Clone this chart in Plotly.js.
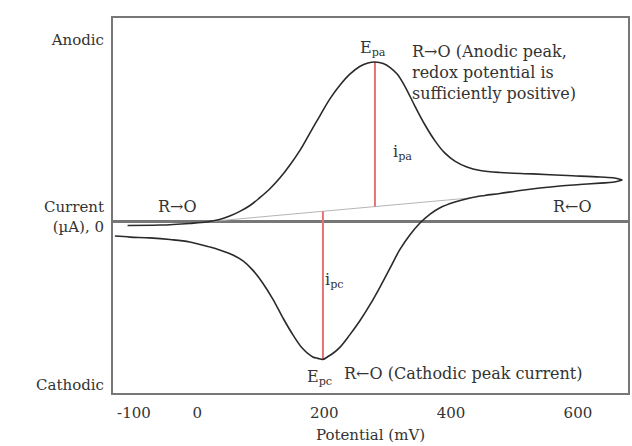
<!DOCTYPE html>
<html>
<head>
<meta charset="utf-8">
<script src="https://cdn.plot.ly/plotly-3.0.1.min.js"></script>
<style>html,body{margin:0;padding:0;background:#fff;}#chart{width:632px;height:446px;}</style>
</head>
<body>
<div id="chart"></div>
<script>
// Forward (anodic) scan, potential in mV, current in arbitrary µA
const potentialForward = [-110, -59, -12, 15, 35, 51, 67, 83, 98, 114, 130, 146, 162, 177, 193, 209, 225, 240, 256, 269, 280, 293, 304, 315, 327, 343, 359, 375, 390, 406, 425, 446, 477, 529, 583, 635, 658, 670];
const currentForward   = [-0.18, -0.16, -0.08, -0.01, 0.11, 0.28, 0.51, 0.80, 1.17, 1.61, 2.15, 2.79, 3.52, 4.33, 5.19, 6.03, 6.71, 7.23, 7.62, 7.79, 7.84, 7.77, 7.57, 7.25, 6.66, 5.68, 4.75, 3.96, 3.38, 2.98, 2.69, 2.52, 2.42, 2.35, 2.27, 2.20, 2.15, 2.05];
// Reverse (cathodic) scan
const potentialReverse = [670, 655, 635, 603, 572, 540, 509, 477, 453, 430, 406, 382, 367, 351, 335, 319, 304, 288, 272, 256, 240, 225, 214, 206, 198, 190, 182, 166, 151, 135, 119, 103, 87, 72, 56, 35, 20, -12, -43, -75, -106, -130];
const currentReverse   = [2.05, 1.94, 1.90, 1.83, 1.76, 1.66, 1.54, 1.39, 1.29, 1.17, 0.97, 0.68, 0.38, -0.06, -0.65, -1.38, -2.26, -3.20, -4.08, -4.87, -5.56, -6.15, -6.45, -6.61, -6.75, -6.70, -6.63, -6.22, -5.56, -4.72, -3.79, -3.00, -2.36, -1.92, -1.63, -1.38, -1.24, -0.99, -0.87, -0.79, -0.75, -0.70];
// Extrapolated baseline
const baselinePotential = [15, 430];
const baselineCurrent   = [0, 1.17];
// Axis ticks
const xTickValues = [-100, 0, 200, 400, 600];
const xTickLabels = ["-100", "0", "200", "400", "600"];
const yTickValues = [8.92, 0.25, -8.01];
const yTickLabels = ["Anodic", "Current<br>(µA), 0", "Cathodic"];

function baselineAt(v) {
  const t = (v - baselinePotential[0]) / (baselinePotential[1] - baselinePotential[0]);
  return baselineCurrent[0] + t * (baselineCurrent[1] - baselineCurrent[0]);
}
let iPa = 0; for (let k = 1; k < currentForward.length; k++) if (currentForward[k] > currentForward[iPa]) iPa = k;
let iPc = 0; for (let k = 1; k < currentReverse.length; k++) if (currentReverse[k] < currentReverse[iPc]) iPc = k;
const Epa = potentialForward[iPa], ipa = currentForward[iPa];
const Epc = potentialReverse[iPc], ipc = currentReverse[iPc];

const FONT = "DejaVu Serif";
const TXT = "#333";
const curveLine = {color: "#2a2a2a", width: 1.6, shape: "spline", smoothing: 1};

const traces = [
  {x: baselinePotential, y: baselineCurrent, mode: "lines", line: {color: "#b5b5b5", width: 1}, hoverinfo: "skip"},
  {x: [Epa, Epa], y: [baselineAt(Epa), ipa], mode: "lines", line: {color: "#e57373", width: 2}},
  {x: [Epc, Epc], y: [baselineAt(Epc), ipc], mode: "lines", line: {color: "#e57373", width: 2}},
  {x: potentialForward, y: currentForward, mode: "lines", line: curveLine},
  {x: potentialReverse, y: currentReverse, mode: "lines", line: curveLine}
];

const af = {family: FONT, size: 16, color: TXT};
const annotations = [
  {x: Epa, y: ipa, xref: "x", yref: "y", text: "E<sub>pa</sub>", showarrow: false, xanchor: "center", yanchor: "bottom", xshift: -2, yshift: 1, font: af},
  {x: 335, y: 8.92, xref: "x", yref: "y", text: "R→O (Anodic peak,<br>redox potential is<br>sufficiently positive)", showarrow: false, xanchor: "left", yanchor: "top", align: "left", font: af},
  {x: 324, y: 3.42, xref: "x", yref: "y", text: "i<sub>pa</sub>", showarrow: false, font: af},
  {x: -32, y: 0.73, xref: "x", yref: "y", text: "R→O", showarrow: false, font: af},
  {x: 591, y: 0.73, xref: "x", yref: "y", text: "R←O", showarrow: false, font: af},
  {x: 217, y: -2.86, xref: "x", yref: "y", text: "i<sub>pc</sub>", showarrow: false, font: af},
  {x: Epc, y: ipc, xref: "x", yref: "y", text: "E<sub>pc</sub>", showarrow: false, xanchor: "center", yanchor: "top", xshift: -3, yshift: -6, font: af},
  {x: 228, y: -7.43, xref: "x", yref: "y", text: "R←O (Cathodic peak current)", showarrow: false, xanchor: "left", font: af}
];

const layout = {
  width: 632, height: 446,
  margin: {l: 113, r: 4, t: 18, b: 53},
  paper_bgcolor: "#fff", plot_bgcolor: "#fff",
  showlegend: false,
  xaxis: {
    range: [-133, 679], tickvals: xTickValues, ticktext: xTickLabels, showgrid: false, zeroline: false,
    showline: true, mirror: true, linecolor: "#777", linewidth: 2,
    ticks: "outside", ticklen: 5, tickcolor: "rgba(0,0,0,0)",
    tickfont: {family: FONT, size: 15, color: TXT},
    title: {text: "Potential (mV)", font: {family: FONT, size: 15, color: TXT}, standoff: 8},
    automargin: false, fixedrange: true
  },
  yaxis: {
    range: [-8.4, 10], tickvals: yTickValues, ticktext: yTickLabels, showgrid: false,
    zeroline: true, zerolinecolor: "#777", zerolinewidth: 3,
    showline: true, mirror: true, linecolor: "#777", linewidth: 2,
    ticks: "outside", ticklen: 4, tickcolor: "rgba(0,0,0,0)",
    tickfont: {family: FONT, size: 15, color: TXT},
    automargin: false, fixedrange: true
  },
  annotations: annotations
};

Plotly.newPlot("chart", traces, layout, {displayModeBar: false, staticPlot: true});
</script>
</body>
</html>
